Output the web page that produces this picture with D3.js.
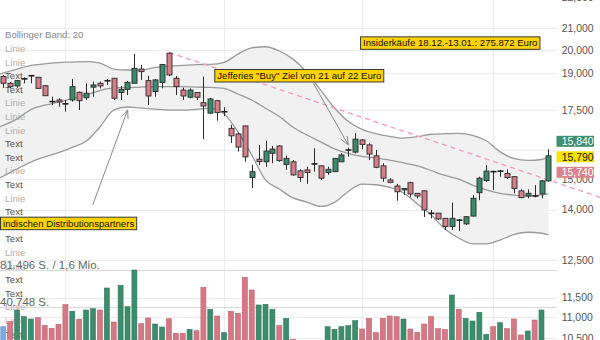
<!DOCTYPE html>
<html>
<head>
<meta charset="utf-8">
<script src="https://cdn.jsdelivr.net/npm/d3@7"></script>
<style>
  html, body { margin: 0; padding: 0; background: #fff; }
  svg { display: block; font-family: "Liberation Sans", Arial, sans-serif; }
</style>
</head>
<body>
<svg id="chart" width="600" height="340"></svg>
<script>
// Daily OHLC, oldest first
const opens = [
  18850, 18570, 18460, 18750, 18880, 18820, 18470, 17830, 17890, 17740,
  17890, 18200, 17980, 18410, 18570, 18670, 18780, 18190, 18320, 18570,
  19170, 18680, 18230, 18600, 19860, 18780, 18290, 18000, 18190, 17780,
  17370, 17860, 17420, 16790, 16580, 16880, 15040, 15670, 15580, 15880,
  16140, 15490, 15580, 15270, 15300, 15500, 15440, 15210, 15240, 15580,
  15990, 15920, 16360, 16180, 15790, 15440, 14960, 14760, 14630, 14870,
  14520, 14600, 13880, 13890, 13730, 13480, 13680, 13560, 13800, 14540,
  14940, 15260, 15250, 15180, 15070, 14600, 14430, 14440, 14500, 14930
];
const highs = [
  18920, 18620, 18710, 18820, 18900, 18840, 18500, 18020, 17960, 17890,
  18750, 18230, 18570, 18640, 18640, 18750, 18790, 18460, 18670, 19830,
  19350, 18880, 18750, 19380, 19900, 18880, 18390, 18360, 18210, 18850,
  17970, 17890, 17600, 16920, 16630, 16890, 15470, 16180, 16330, 16140,
  16170, 15800, 15640, 15320, 15410, 16060, 15450, 15410, 15710, 15880,
  16080, 16610, 16390, 16240, 16000, 15530, 15020, 14830, 14690, 14900,
  14530, 14610, 13990, 13900, 13740, 14220, 13710, 13800, 14470, 15070,
  15470, 15270, 15300, 15320, 15090, 14650, 14650, 14790, 14960, 16020
];
const lows = [
  18380, 18360, 18380, 18570, 18570, 18340, 18050, 17690, 17620, 17430,
  17820, 17490, 17890, 18020, 18360, 18500, 17890, 17890, 18090, 18560,
  18710, 17690, 18020, 18360, 18870, 18090, 17890, 17960, 17890, 16390,
  17340, 17080, 17260, 16250, 15940, 15580, 14690, 15470, 15410, 15530,
  15580, 15300, 15100, 14900, 14830, 15240, 14960, 15130, 15230, 15570,
  15760, 15880, 16020, 15640, 15360, 14900, 14850, 14280, 14470, 14390,
  14360, 13770, 13730, 13680, 13380, 13380, 13350, 13530, 13780, 14300,
  14900, 14630, 15070, 14990, 14520, 14360, 14360, 14390, 14360, 14900
];
const closes = [
  18570, 18430, 18680, 18760, 18890, 18360, 18060, 17820, 17810, 17730,
  18430, 17860, 18160, 18500, 18460, 18680, 17960, 18320, 18610, 19200,
  19060, 18050, 18710, 19370, 18920, 18430, 18050, 18290, 18000, 17650,
  17930, 17390, 17430, 16510, 16100, 15750, 15240, 15590, 15960, 16030,
  15620, 15700, 15130, 15040, 15210, 15510, 15020, 15320, 15700, 15820,
  16000, 16390, 16200, 15850, 15390, 15020, 14880, 14570, 14680, 14500,
  14430, 13990, 13890, 13710, 13480, 13730, 13670, 13780, 14360, 15020,
  15260, 15220, 15260, 15040, 14680, 14380, 14520, 14430, 14930, 15790
];
// Traded shares per day
const volumes = [
  19550, 25020, 37800, 30480, 27970, 29390, 21080, 17810, 22180, 43590,
  36380, 27640, 37800, 39220, 37800, 61830, 24690, 64780, 41400, 81496,
  22830, 29060, 22500, 19230, 28290, 12340, 12340, 16710, 15180, 62590,
  38560, 31240, 13000, 36380, 34190, 73520, 59640, 43260, 44020, 38560,
  20650, 28730, 5790, 2600, 2300, 3100, 2400, 19550, 16710, 19550,
  20650, 26110, 17040, 28730, 13000, 28730, 31240, 30480, 27970, 17040,
  13440, 22500, 30480, 17370, 16280, 54180, 38560, 28730, 25780, 35280,
  11250, 19550, 23920, 17370, 27970, 10490, 14860, 26870, 37800, 2000
];

// Bollinger band (20), sampled at these day positions
const bandIdx = [
  -0.5, 2, 4, 6, 8, 10, 12, 14, 16, 18, 20, 22, 24, 26, 28, 30, 32, 34, 36, 38,
  40, 42, 44, 46, 48, 50, 52, 54, 56, 58, 60, 62, 64, 66, 68, 70, 72, 74, 76, 78, 79
];
const bandUpper = [
  18960, 19170, 19330, 19390, 19450, 19470, 19490, 19430, 19170, 19130,
  19130, 19240, 19300, 19330, 19360, 19370, 19460, 19820, 20100, 20150,
  19960, 19600, 19020, 18290, 17570, 17050, 16750, 16590, 16490, 16430,
  16480, 16570, 16590, 16600, 16530, 16330, 15930, 15700, 15630, 15660, 15750
];
const bandMiddle = [
  16850, 17150, 17510, 17680, 17800, 17950, 18090, 18270, 18380, 18390,
  18410, 18430, 18430, 18430, 18410, 18400, 18360, 18130, 17890, 17560,
  17240, 16830, 16540, 16290, 16040, 15880, 15770, 15710, 15640, 15540,
  15440, 15280, 15110, 14990, 14790, 14630, 14520, 14460, 14430, 14470, 14500
];
const bandLower = [
  15030, 15330, 15570, 15750, 15900, 16090, 16310, 16840, 17490, 17610,
  17570, 17530, 17490, 17490, 17520, 17560, 17340, 16660, 15820, 14960,
  14660, 14370, 14240, 14100, 14230, 14580, 14820, 14800, 14710, 14530,
  14180, 13830, 13410, 13140, 12970, 12970, 13080, 13240, 13310, 13280, 13230
];

const priceTicks = [10500, 11000, 11500, 12500, 14000, 15000, 16000, 17500, 19000, 20000, 21000, 22500];
// 16,000 sits behind the quote boxes, so it only gets a grid line
const priceLabelTicks = [10500, 11000, 11500, 12500, 14000, 15000, 17500, 19000, 20000, 21000, 22500];
const monthStarts = [9, 32, 52, 71];
const volumeTicks = [40748, 81496];
const volumeTickLabels = ["40.748 S.", "81.496 S. / 1,6 Mio."];

// Ask / last / bid
const quoteValues = [15840, 15790, 15740];
const quoteLabels = ["15,840", "15,790", "15,740"];
const quoteKinds = ["ask", "last", "bid"];

// Resistance line: from the high of day 24, extended to the right edge
const trendFrom = [24, 19900];
const trendTo = [86.5, 14390];

const legendItems = [
  "Bollinger Band: 20", "Linie", "Linie", "Text", "Text", "Linie", "Linie", "Linie",
  "Text", "Text", "Linie", "Text", "Linie", "Text", "Text", "Text", "Linie", "Linie",
  "Text", "Text", "Linie", "Linie", "Text"
];
const legendKinds = [
  "title", "line", "line", "text", "text", "line", "line", "line",
  "text", "text", "line", "text", "line", "text", "text", "text", "line", "line",
  "text", "text", "line", "pink", "text"
];

// News markers: box anchor (day, price) and optional arrow tail/tip
const newsTexts = [
  "indischen Distributionspartners",
  "Jefferies \"Buy\" Ziel von 21 auf 22 Euro",
  "Insiderkäufe 18.12.-13.01.: 275.872 Euro"
];
const newsBoxAt = [[-0.48, 13781], [30.58, 19173], [51.7, 20624]];
const newsArrowTail = [[12.96, 14147], [44.93, 18571], null];
const newsArrowTip = [[18.02, 17494], [50.0, 16178], null];

// ---------------------------------------------------------------
const W = 600, H = 340, plotRight = 557;
const C = {
  up: "#3a8a6b", down: "#d57d88", wick: "#2b2b2b",
  volUp: "#3d8c6e", volDown: "#d27985", volFirst: "#7fa8e0",
  grid: "#ececec", gridVol: "#d9d9d9",
  band: "#f1f1f1", bandLine: "#9a9a9a",
  trend: "#f59ac2", arrow: "#8a8a8a",
  news: "#ffd200"
};

const svg = d3.select("#chart");
const x = d3.scaleLinear().domain([0, closes.length - 1]).range([3.3, 548.4]);
const y = d3.scaleLog().domain([10460, 22370]).range([H, 0]);
const yVol = d3.scaleLinear().domain([0, 81496]).range([344.6, 270]);

// Grid
const grid = svg.append("g");
grid.selectAll("line.h").data(priceTicks).join("line")
  .attr("class", "h")
  .attr("x1", 0).attr("x2", plotRight)
  .attr("y1", d => Math.round(y(d)) + 0.5).attr("y2", d => Math.round(y(d)) + 0.5)
  .attr("stroke", C.grid).attr("stroke-width", 1);
grid.selectAll("line.v").data(monthStarts).join("line")
  .attr("class", "v")
  .attr("x1", d => Math.round(x(d)) + 0.5).attr("x2", d => Math.round(x(d)) + 0.5)
  .attr("y1", 0).attr("y2", H)
  .attr("stroke", C.grid).attr("stroke-width", 1);
grid.selectAll("line.vol").data(volumeTicks).join("line")
  .attr("class", "vol")
  .attr("x1", 0).attr("x2", plotRight)
  .attr("y1", d => Math.round(yVol(d)) + 0.5).attr("y2", d => Math.round(yVol(d)) + 0.5)
  .attr("stroke", C.gridVol).attr("stroke-width", 1);

// Bollinger band fill
const bandPts = bandIdx.map((d, i) => ({ i: d, u: bandUpper[i], m: bandMiddle[i], l: bandLower[i] }));
svg.append("path")
  .datum(bandPts)
  .attr("d", d3.area().curve(d3.curveMonotoneX)
    .x(d => x(d.i)).y0(d => y(d.l)).y1(d => y(d.u)))
  .attr("fill", C.band);

// Indicator list on the left
const legend = svg.append("g")
  .attr("font-size", "9.6px");
legend.selectAll("text").data(legendItems).join("text")
  .attr("x", 5)
  .attr("y", (d, i) => 35 + 13.6 * i)
  .attr("dy", "0.35em")
  .attr("fill", (d, i) => ({ title: "#8a8a8a", line: "#b0b0b0", text: "#555", pink: "#f3a3c8" })[legendKinds[i]])
  .text(d => d);

// Band lines
["u", "m", "l"].forEach(k => {
  svg.append("path")
    .datum(bandPts)
    .attr("d", d3.line().curve(d3.curveMonotoneX).x(d => x(d.i)).y(d => y(d[k])))
    .attr("fill", "none")
    .attr("stroke", C.bandLine)
    .attr("stroke-width", 1.3);
});

// Trend line
svg.append("line")
  .attr("x1", x(trendFrom[0])).attr("y1", y(trendFrom[1]))
  .attr("x2", x(trendTo[0])).attr("y2", y(trendTo[1]))
  .attr("stroke", C.trend).attr("stroke-width", 1.3)
  .attr("stroke-dasharray", "5,4");

// News arrows
const arrows = svg.append("g").attr("stroke", C.arrow).attr("stroke-width", 1).attr("fill", "none");
newsTexts.forEach((t, k) => {
  if (!newsArrowTail[k]) return;
  const x0 = x(newsArrowTail[k][0]), y0 = y(newsArrowTail[k][1]);
  const x1 = x(newsArrowTip[k][0]), y1 = y(newsArrowTip[k][1]);
  arrows.append("line").attr("x1", x0).attr("y1", y0).attr("x2", x1).attr("y2", y1);
  const ang = Math.atan2(y1 - y0, x1 - x0), len = 9, spread = 0.4;
  arrows.append("path").attr("d",
    `M${x1 - len * Math.cos(ang - spread)},${y1 - len * Math.sin(ang - spread)}L${x1},${y1}` +
    `L${x1 - len * Math.cos(ang + spread)},${y1 - len * Math.sin(ang + spread)}`);
});

// Volume bars
const days = d3.range(closes.length);
svg.append("g").selectAll("rect").data(days).join("rect")
  .attr("x", i => x(i) - 2.5)
  .attr("width", 5)
  .attr("y", i => yVol(volumes[i]))
  .attr("height", i => yVol(0) - yVol(volumes[i]))
  .attr("fill", i => i === 0 ? C.volFirst : (closes[i] >= closes[i - 1] ? C.volUp : C.volDown))
  .attr("stroke", i => i === 0 ? "#5f8fd0" : (closes[i] >= closes[i - 1] ? "#2f7a5c" : "#c0606d"))
  .attr("stroke-width", 0.6);

// Candles
const candles = svg.append("g");
candles.selectAll("line.wick").data(days).join("line")
  .attr("class", "wick")
  .attr("x1", i => Math.round(x(i)) + 0.5).attr("x2", i => Math.round(x(i)) + 0.5)
  .attr("y1", i => y(highs[i])).attr("y2", i => y(lows[i]))
  .attr("stroke", C.wick).attr("stroke-width", 1);
candles.selectAll("rect").data(days.filter(i => Math.abs(y(opens[i]) - y(closes[i])) >= 1.5)).join("rect")
  .attr("x", i => Math.round(x(i)) - 2)
  .attr("width", 5)
  .attr("y", i => y(Math.max(opens[i], closes[i])))
  .attr("height", i => Math.abs(y(opens[i]) - y(closes[i])))
  .attr("fill", i => closes[i] >= opens[i] ? C.up : C.down)
  .attr("stroke", "#2b2b2b").attr("stroke-width", 0.9);
candles.selectAll("line.doji").data(days.filter(i => Math.abs(y(opens[i]) - y(closes[i])) < 1.5)).join("line")
  .attr("class", "doji")
  .attr("x1", i => Math.round(x(i)) - 2.5).attr("x2", i => Math.round(x(i)) + 3.5)
  .attr("y1", i => y((opens[i] + closes[i]) / 2)).attr("y2", i => y((opens[i] + closes[i]) / 2))
  .attr("stroke", "#1f1f1f").attr("stroke-width", 1.6);

// News boxes
const news = svg.append("g").attr("font-size", "9.6px");
newsTexts.forEach((t, k) => {
  const bx = Math.max(0, x(newsBoxAt[k][0])), by = y(newsBoxAt[k][1]);
  const g = news.append("g").attr("transform", `translate(${bx},${by})`);
  const rect = g.append("rect").attr("fill", C.news).attr("stroke", "#3a3a3a").attr("stroke-width", 1);
  const txt = g.append("text").attr("x", 3).attr("y", 10).attr("fill", "#111").text(t);
  const w = txt.node().getComputedTextLength();
  rect.attr("x", 0.5).attr("y", 0.5).attr("width", w + 5).attr("height", 12.5);
});

// Volume scale labels
svg.append("g").attr("font-size", "11.5px").attr("fill", "#666")
  .selectAll("text").data(volumeTicks).join("text")
  .attr("x", 0)
  .attr("y", d => yVol(d) - 1.5)
  .text((d, i) => volumeTickLabels[i]);

// Price axis (right)
const axis = svg.append("g")
  .attr("transform", `translate(556,0)`)
  .call(d3.axisRight(y).tickValues(priceLabelTicks).tickFormat(d3.format(",")).tickSize(0).tickPadding(5.7));
axis.select(".domain").remove();
axis.selectAll("text")
  .attr("font-family", "\"Liberation Sans\", Arial, sans-serif")
  .attr("font-size", "10.4px")
  .attr("fill", "#555");

// Current quote boxes (ask / last / bid), stacked around the last price
const quoteFill = { ask: "#3f8f70", last: "#f2e400", bid: "#d8838e" };
const quoteText = { ask: "#fff", last: "#222", bid: "#fff" };
const lastY = y(quoteValues[1]) + 1;
const qg = svg.append("g").attr("font-size", "10.4px");
quoteValues.forEach((v, k) => {
  const cy = lastY + (k - 1) * 15.5;
  qg.append("rect")
    .attr("x", 556.5).attr("y", cy - 5.5).attr("width", 37.5).attr("height", 11)
    .attr("fill", quoteFill[quoteKinds[k]]);
  qg.append("text")
    .attr("x", 561.7).attr("y", cy).attr("dy", "0.36em")
    .attr("fill", quoteText[quoteKinds[k]])
    .text(quoteLabels[k]);
});
</script>
</body>
</html>
